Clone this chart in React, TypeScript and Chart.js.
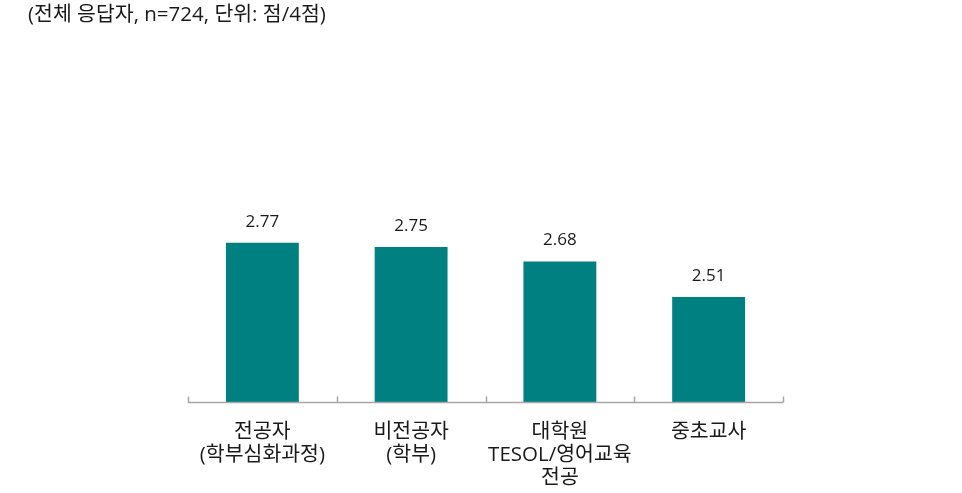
import React, { useEffect, useRef } from "react";
import { Chart, registerables } from "chart.js";

Chart.register(...registerables);

const categories: string[][] = [
  ["전공자", "(학부심화과정)"],
  ["비전공자", "(학부)"],
  ["대학원", "TESOL/영어교육", "전공"],
  ["중초교사"],
];
const values: number[] = [2.77, 2.75, 2.68, 2.51];
const titleText = "(전체 응답자, n=724, 단위: 점/4점)";
const yMin = 2;
const yMax = 3;

const FONT = "'Open Sans', 'Noto Sans CJK KR', sans-serif";
const BAR_COLOR = "#008080";
const AXIS_COLOR = "#A6A6A6";
const TEXT_COLOR = "#1a1a1a";

const overlay = {
  id: "overlay",
  afterDraw(chart: any) {
    const ctx = chart.ctx;
    const area = chart.chartArea;
    ctx.save();
    // axis line and ticks
    ctx.strokeStyle = AXIS_COLOR;
    ctx.lineWidth = 1.5;
    ctx.beginPath();
    const y = Math.round(area.bottom) - 0.5;
    ctx.moveTo(area.left, y);
    ctx.lineTo(area.right, y);
    const n = categories.length;
    for (let i = 0; i <= n; i++) {
      const x = area.left + ((area.right - area.left) * i) / n;
      const xx = Math.round(x) + 0.5;
      ctx.moveTo(xx, y);
      ctx.lineTo(xx, y - 6);
    }
    ctx.stroke();
    // data labels
    ctx.fillStyle = TEXT_COLOR;
    ctx.font = `17px ${FONT}`;
    ctx.textAlign = "center";
    ctx.textBaseline = "middle";
    const meta = chart.getDatasetMeta(0);
    meta.data.forEach((bar: any, i: number) => {
      ctx.fillText(values[i].toFixed(2), bar.x, bar.y - 21);
    });
    // title
    ctx.font = `20.5px ${FONT}`;
    ctx.textAlign = "left";
    ctx.fillText(titleText, 28, 15);
    ctx.restore();
  },
};

export default function App() {
  const ref = useRef<HTMLCanvasElement | null>(null);
  useEffect(() => {
    if (!ref.current) return;
    const chart = new Chart(ref.current, {
      type: "bar",
      data: {
        labels: categories,
        datasets: [
          {
            data: values,
            backgroundColor: BAR_COLOR,
            barPercentage: 0.49,
            categoryPercentage: 1,
          },
        ],
      },
      options: {
        animation: false,
        responsive: false,
        maintainAspectRatio: false,
        layout: { padding: { left: 188, right: 179, top: 195, bottom: 0 } },
        plugins: { legend: { display: false }, tooltip: { enabled: false }, title: { display: false } },
        scales: {
          y: { display: false, min: yMin, max: yMax },
          x: {
            display: true,
            grid: { display: false, drawTicks: false },
            border: { display: false },
            ticks: {
              color: TEXT_COLOR,
              font: { family: FONT, size: 20.5, lineHeight: "23px" },
              padding: 18,
              maxRotation: 0,
              autoSkip: false,
            },
            afterFit: (scale: any) => {
              scale.height = 90;
            },
          },
        },
      },
      plugins: [overlay],
    });
    return () => chart.destroy();
  }, []);
  return (
    <div style={{ position: "fixed", left: 0, top: 0, width: 962, height: 493, background: "#fff" }}>
      <canvas ref={ref} width={962} height={493} style={{ display: "block", width: 962, height: 493 }} />
    </div>
  );
}
